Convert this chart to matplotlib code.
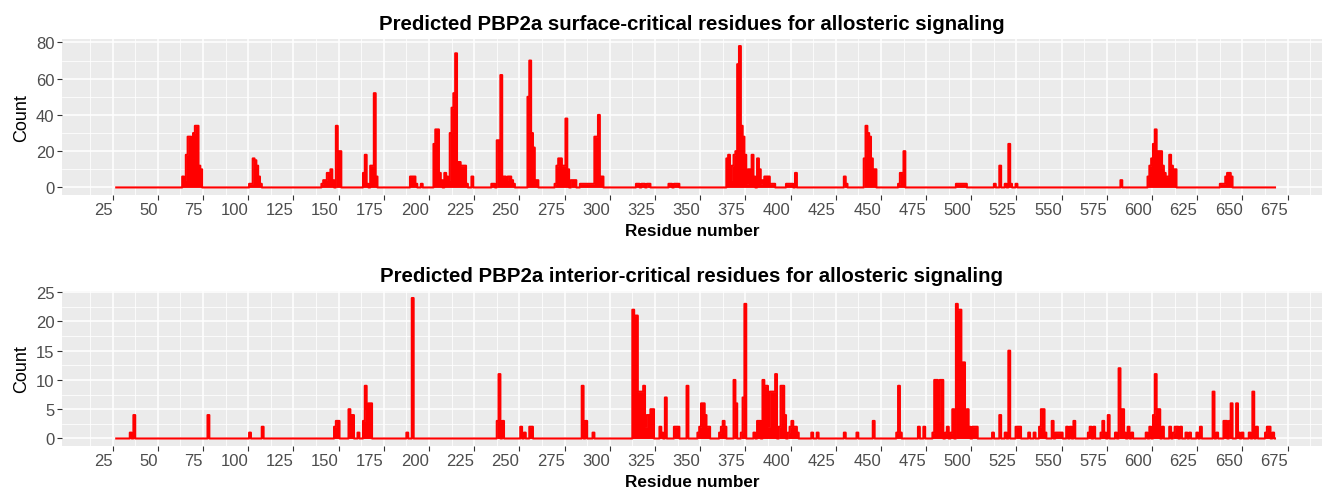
import numpy as np
import matplotlib
matplotlib.use("Agg")
import matplotlib.pyplot as plt

plt.rcParams['font.family'] = ['Liberation Sans', 'DejaVu Sans']

# residues covered by the structure
first_res = 27
last_res = 668

# surface-critical residues (residue, count)
surface_res = [64, 65, 66, 67, 68, 69, 70, 71, 72, 73, 74,
               101, 102, 103, 104, 105, 106, 107,
               141, 142, 143, 144, 145, 146, 147, 149, 150, 151,
               164, 165, 166, 168, 169, 170, 171,
               190, 191, 192, 193, 196,
               203, 204, 205, 206, 207, 209, 210, 211, 212, 213, 214, 215, 216, 217, 218, 219, 220, 221, 224,
               235, 236, 238, 239, 240, 241, 242, 243, 244, 245, 246, 247,
               255, 256, 257, 258, 259, 260,
               270, 271, 272, 273, 274, 275, 276, 277, 279, 280, 281,
               284, 285, 286, 287, 288, 289, 290, 291, 292, 293, 294, 295, 296,
               315, 316, 318, 319, 321, 322, 333, 334, 336, 337, 338,
               365, 366, 367, 368, 369, 370, 371, 372, 373, 374, 375, 376, 377, 378, 379, 380,
               382, 383, 384, 385, 386, 387, 388, 389, 390, 391,
               398, 399, 400, 401, 403,
               430, 431,
               441, 442, 443, 444, 445, 446, 447,
               460, 461, 462, 463,
               492, 493, 494, 495, 496, 497,
               513, 516, 519, 521, 522, 525,
               583,
               598, 599, 600, 601, 602, 603, 604, 605, 606, 607, 608, 609, 610, 611, 612, 613,
               638, 639, 640, 641, 642, 643, 644]
surface_count = [6, 4, 18, 28, 28, 16, 30, 34, 34, 12, 10,
                 2, 2, 16, 15, 12, 6, 2,
                 2, 4, 4, 8, 8, 10, 4, 34, 20, 20,
                 8, 18, 2, 12, 12, 52, 6,
                 6, 6, 6, 2, 2,
                 24, 32, 32, 8, 4, 8, 6, 4, 30, 44, 52, 74, 14, 14, 12, 12, 12, 2, 6,
                 2, 2, 26, 26, 62, 6, 6, 4, 6, 6, 4, 2,
                 50, 70, 30, 22, 4, 4,
                 2, 12, 16, 16, 12, 12, 38, 10, 4, 4, 4,
                 2, 2, 2, 2, 2, 2, 2, 2, 28, 28, 40, 6, 6,
                 2, 2, 2, 2, 2, 2, 2, 2, 2, 2, 2,
                 16, 18, 4, 12, 18, 20, 68, 78, 34, 28, 18, 2, 10, 10, 18, 6,
                 16, 10, 2, 4, 6, 6, 6, 2, 2, 2,
                 2, 2, 2, 2, 8,
                 6, 2,
                 16, 34, 30, 28, 16, 10, 10,
                 2, 8, 8, 20,
                 2, 2, 2, 2, 2, 2,
                 2, 12, 2, 24, 2, 2,
                 4,
                 6, 12, 16, 24, 32, 20, 20, 20, 12, 8, 6, 6, 18, 12, 10, 10,
                 2, 2, 2, 6, 8, 8, 6]

# interior-critical residues (residue, count)
interior_res = [35, 37, 78, 101, 108,
                148, 149, 150, 156, 157, 158, 161, 164, 165, 166, 167, 168, 188, 191,
                238, 239, 241, 251, 253, 256, 257, 285, 287, 291,
                313, 314, 315, 316, 317, 318, 319, 320, 321, 322, 323, 324, 328, 329, 331,
                336, 337, 338, 343,
                349, 350, 351, 352, 353, 354, 355, 361, 362, 363, 364,
                369, 370, 373, 374, 375, 380, 382, 383, 385, 386, 387, 388, 389, 390, 391, 392,
                394, 395, 396, 397, 399, 400, 401, 402, 403, 404, 412, 415, 430, 437, 446,
                459, 460, 461, 471, 474, 479, 480, 481, 482, 483, 484, 486, 487, 489, 490,
                492, 493, 494, 495, 496, 497, 498, 499, 501, 502, 503,
                512, 516, 519, 521, 525, 526, 527, 532, 535, 538, 539, 540, 541, 545,
                547, 548, 549, 550, 553, 555, 557,
                565, 566, 568, 572, 573, 574, 576, 580, 582, 583, 584, 585, 587, 589,
                597, 599, 601, 602, 603, 604, 606, 610, 612, 613, 614, 616, 619, 621, 625, 627,
                634, 636, 640, 641, 643, 644, 647, 648, 650, 654, 656, 658, 663, 664, 665, 667]
interior_count = [1, 4, 4, 1, 2,
                  2, 3, 3, 5, 4, 4, 1, 3, 9, 5, 6, 6, 1, 24,
                  3, 11, 3, 2, 1, 2, 2, 9, 3, 1,
                  22, 21, 21, 8, 8, 8, 9, 2, 4, 4, 5, 5, 2, 1, 7,
                  2, 2, 2, 9,
                  1, 2, 6, 6, 4, 2, 2, 1, 2, 3, 2,
                  10, 6, 1, 7, 23, 1, 3, 3, 10, 9, 9, 2, 8, 8, 8, 11,
                  2, 9, 9, 4, 1, 2, 3, 2, 2, 1, 1, 1, 1, 1, 3,
                  1, 9, 1, 2, 2, 1, 10, 10, 3, 10, 10, 1, 2, 1, 5,
                  23, 22, 22, 13, 13, 4, 5, 2, 2, 2, 2,
                  1, 4, 1, 15, 2, 2, 2, 1, 1, 2, 5, 5, 1, 3,
                  1, 1, 1, 1, 2, 2, 3,
                  1, 2, 2, 1, 3, 1, 4, 1, 12, 5, 5, 1, 2, 1,
                  1, 2, 4, 11, 5, 5, 2, 2, 1, 2, 2, 2, 1, 1, 1, 2,
                  8, 1, 3, 3, 3, 6, 6, 1, 1, 1, 8, 2, 1, 2, 2, 1]

x_breaks = np.arange(25, 676, 25)

residues = np.arange(first_res, last_res + 1)


def full_series(res, cnt):
    vals = np.zeros(len(residues))
    for r, c in zip(res, cnt):
        vals[r - first_res] = c
    return vals


surface = full_series(surface_res, surface_count)
interior = full_series(interior_res, interior_count)

W, H = 1325, 489
fig = plt.figure(figsize=(W / 100, H / 100), dpi=100)

panels = [
    (surface, "Predicted PBP2a surface-critical residues for allosteric signaling",
     [40, 195.5], np.arange(0, 81, 20), np.arange(10, 80, 20)),
    (interior, "Predicted PBP2a interior-critical residues for allosteric signaling",
     [292, 446.5], np.arange(0, 26, 5), np.arange(2.5, 25, 5)),
]

for vals, title, (ytop, ybot), yb, ymin in panels:
    ax = fig.add_axes([62 / W, 1 - ybot / H, 1260 / W, (ybot - ytop) / H])
    ax.set_facecolor('#EBEBEB')
    ax.fill_between(residues, vals, step='mid', color='red', lw=0, zorder=3)
    ax.step(residues, vals, where='mid', color='red', lw=1.5, zorder=4)

    top = vals.max()
    ax.set_xlim(-3, 694)
    ax.set_ylim(-0.05 * top, top * 1.05)

    ax.set_xticks(x_breaks)
    ax.set_xticklabels([str(v) for v in x_breaks], ha='right')
    ax.set_xticks(np.arange(12.5, 700, 25), minor=True)
    ax.set_yticks(yb)
    ax.set_yticks(ymin, minor=True)

    ax.grid(which='major', color='white', lw=1.1, zorder=0)
    ax.grid(which='minor', color='white', lw=0.55, zorder=0)
    ax.set_axisbelow(True)
    for s in ax.spines.values():
        s.set_visible(False)
    ax.tick_params(which='major', length=3.5, width=0.8, color='#333333',
                   labelcolor='#4D4D4D', labelsize=12, pad=2)
    ax.tick_params(which='minor', length=0)

    ax.set_title(title, fontsize=14.7, fontweight='bold', pad=7)
    ax.set_xlabel("Residue number", fontsize=12.3, fontweight='bold', labelpad=4.5)
    ax.set_ylabel("Count", fontsize=13, labelpad=4)

fig.savefig("out.png", dpi=100)
